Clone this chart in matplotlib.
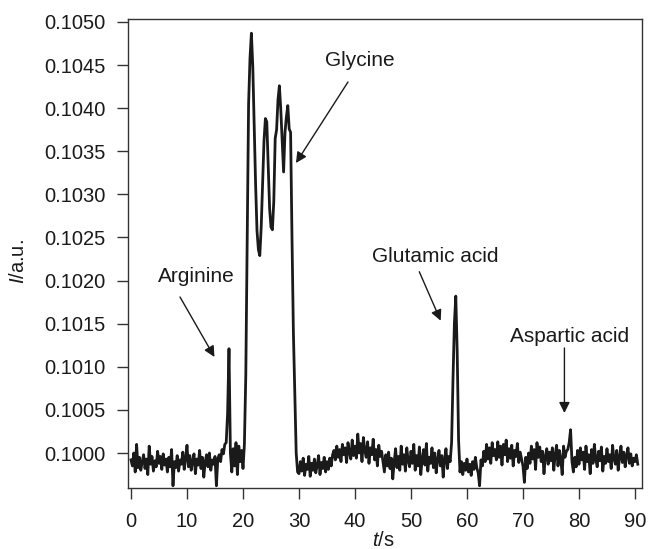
import numpy as np
import matplotlib
matplotlib.use("Agg")
import matplotlib.pyplot as plt

plt.rcParams["font.family"] = ["Liberation Sans", "DejaVu Sans"]
plt.rcParams["mathtext.fontset"] = "custom"
plt.rcParams["mathtext.rm"] = "Liberation Sans"
plt.rcParams["mathtext.it"] = "Liberation Sans:italic"

# Detector trace, sampled every 0.25 s from 0 to 90.5 s
t_start, t_end = 0.0, 90.5
intensity = [
    # 0 - 4.75 s
    0.09992, 0.09985, 0.10000, 0.09978, 0.10010, 0.09983, 0.09995, 0.09980, 0.09990, 0.09998,
    0.09982, 0.09993, 0.09975, 0.10008, 0.09987, 0.09996, 0.09979, 0.09991, 0.09984, 0.10002,
    # 5 - 9.75 s
    0.09988, 0.09996, 0.09981, 0.09999, 0.09986, 0.09993, 0.09978, 0.09995, 0.09984, 0.10004,
    0.09962, 0.09990, 0.09983, 0.09997, 0.09979, 0.09992, 0.09987, 0.10001, 0.09981, 0.09994,
    # 10 - 14.75 s
    0.10009, 0.09984, 0.09997, 0.09980, 0.09991, 0.09999, 0.09976, 0.09993, 0.09986, 0.10003,
    0.09982, 0.09995, 0.09972, 0.09990, 0.09998, 0.09984, 0.10000, 0.09980, 0.09992, 0.09987,
    # 15 - 19.75 s (arginine)
    0.09996, 0.09962, 0.09993, 0.09998, 0.09990, 0.10004, 0.09999, 0.10010, 0.10012, 0.10046,
    0.10121, 0.10000, 0.09978, 0.10005, 0.09985, 0.10012, 0.09975, 0.10008, 0.09990, 0.10003,
    # 20 - 24.75 s (glycine)
    0.09982, 0.10010, 0.10090, 0.10250, 0.10405, 0.10458, 0.10487, 0.10448, 0.10380, 0.10312,
    0.10258, 0.10236, 0.10229, 0.10262, 0.10312, 0.10362, 0.10388, 0.10384, 0.10335, 0.10284,
    # 25 - 29.75 s
    0.10262, 0.10259, 0.10292, 0.10365, 0.10375, 0.10410, 0.10426, 0.10398, 0.10362, 0.10326,
    0.10372, 0.10390, 0.10403, 0.10376, 0.10372, 0.10250, 0.10140, 0.10070, 0.10000, 0.09978,
    # 30 - 34.75 s
    0.09976, 0.09990, 0.09979, 0.09994, 0.09974, 0.09987, 0.09981, 0.09996, 0.09973, 0.09988,
    0.09980, 0.09993, 0.09977, 0.09986, 0.09997, 0.09975, 0.09989, 0.09982, 0.09995, 0.09978,
    # 35 - 39.75 s
    0.09990, 0.09981, 0.09994, 0.09985, 0.09998, 0.10003, 0.09992, 0.10008, 0.09995, 0.10004,
    0.09990, 0.10010, 0.09998, 0.10006, 0.09989, 0.10012, 0.10001, 0.09993, 0.10015, 0.09997,
    # 40 - 44.75 s
    0.10008, 0.09994, 0.10022, 0.10000, 0.10011, 0.09990, 0.10018, 0.10003, 0.09995, 0.10013,
    0.09988, 0.10006, 0.09998, 0.10016, 0.09992, 0.10004, 0.09985, 0.10009, 0.09996, 0.10002,
    # 45 - 49.75 s
    0.09990, 0.09978, 0.09998, 0.09985, 0.10001, 0.09982, 0.09994, 0.09970, 0.09990, 0.10005,
    0.09983, 0.09996, 0.09980, 0.10008, 0.09987, 0.09998, 0.09979, 0.10006, 0.09991, 0.09984,
    # 50 - 54.75 s
    0.10002, 0.09988, 0.10010, 0.09980, 0.09997, 0.09985, 0.10007, 0.09975, 0.09993, 0.10004,
    0.09986, 0.10011, 0.09979, 0.09995, 0.09988, 0.10006, 0.09983, 0.10000, 0.09977, 0.09992,
    # 55 - 59.75 s (glutamic acid)
    0.10003, 0.09985, 0.09997, 0.09972, 0.09993, 0.10005, 0.09982, 0.09996, 0.09990, 0.10012,
    0.10085, 0.10150, 0.10182, 0.10118, 0.10015, 0.09978, 0.09990, 0.09975, 0.09988, 0.09980,
    # 60 - 64.75 s
    0.09993, 0.09978, 0.09987, 0.09974, 0.09990, 0.09981, 0.09995, 0.09983, 0.09977, 0.09962,
    0.09992, 0.09985, 0.10002, 0.09990, 0.10010, 0.09993, 0.10006, 0.09988, 0.10012, 0.09997,
    # 65 - 69.75 s
    0.10004, 0.09992, 0.10013, 0.09995, 0.10008, 0.09986, 0.10010, 0.09998, 0.10015, 0.09990,
    0.10005, 0.09994, 0.10009, 0.09985, 0.10003, 0.09996, 0.10011, 0.09989, 0.10001, 0.09993,
    # 70 - 74.75 s
    0.09985, 0.09966, 0.09995, 0.09982, 0.10000, 0.09988, 0.10008, 0.09993, 0.10004, 0.09981,
    0.10012, 0.09995, 0.10007, 0.09990, 0.10002, 0.09976, 0.09996, 0.10005, 0.09987, 0.10001,
    # 75 - 79.75 s (aspartic acid)
    0.09991, 0.10006, 0.09980, 0.09998, 0.10009, 0.09985, 0.10003, 0.09993, 0.09975, 0.10008,
    0.09995, 0.10002, 0.10004, 0.10012, 0.10027, 0.09990, 0.09978, 0.09995, 0.09984, 0.10003,
    # 80 - 84.75 s
    0.09987, 0.10006, 0.09992, 0.10001, 0.09981, 0.10008, 0.09990, 0.09998, 0.09976, 0.10004,
    0.09988, 0.10010, 0.09993, 0.09984, 0.10002, 0.09991, 0.10007, 0.09979, 0.09996, 0.09988,
    # 85 - 89.75 s
    0.10005, 0.09990, 0.09998, 0.09982, 0.10009, 0.09993, 0.09987, 0.10003, 0.09980, 0.09995,
    0.10008, 0.09989, 0.10001, 0.09984, 0.09997, 0.10006, 0.09988, 0.09999, 0.09985, 0.09994,
    # 90 - 90.5 s
    0.09990, 0.09998, 0.09987,
]
time = np.linspace(t_start, t_end, len(intensity))

x_ticks = [0, 10, 20, 30, 40, 50, 60, 70, 80, 90]
y_ticks = [0.1000, 0.1005, 0.1010, 0.1015, 0.1020, 0.1025, 0.1030, 0.1035, 0.1040, 0.1045, 0.1050]
y_ticklabels = ["0.1000", "0.1005", "0.1010", "0.1015", "0.1020", "0.1025",
                "0.1030", "0.1035", "0.1040", "0.1045", "0.1050"]

# peak labels: (text, text position, arrow tail, arrow tip)
peak_labels = [
    ("Arginine",      (11.6, 0.102042), (8.75, 0.101810), (14.9, 0.101114)),
    ("Glycine",       (40.9, 0.104559), (38.75, 0.104304), (29.46, 0.103364)),
    ("Glutamic acid", (54.3, 0.102274), (51.48, 0.102103), (55.3, 0.101535)),
    ("Aspartic acid", (78.4, 0.101346), (77.4, 0.101218), (77.4, 0.100464)),
]

fig = plt.figure(figsize=(6.48, 5.49), dpi=100)
ax = fig.add_axes([0.1975, 0.1111, 0.7932, 0.8534])

ax.plot(time, intensity, color="#1a1a1a", lw=2.0, solid_joinstyle="round")

ax.set_xlim(-0.54, 91.25)
ax.set_ylim(0.099594, 0.105029)
ax.set_xticks(x_ticks)
ax.set_xticklabels([str(v) for v in x_ticks])
ax.set_yticks(y_ticks)
ax.set_yticklabels(y_ticklabels)

for s in ax.spines.values():
    s.set_color("#333333")
    s.set_linewidth(1.0)
ax.tick_params(axis="both", direction="out", length=8, width=1.0,
               color="#333333", labelsize=14.5, labelcolor="#1a1a1a")
ax.tick_params(axis="y", pad=8)
ax.tick_params(axis="x", pad=9)

# axis titles placed in figure pixels
W, H = 648, 549
fig.text(383 / W, 1 - 541 / H, "$\\it{t}$/s", fontsize=14.5, color="#1a1a1a",
         ha="center", va="center")
fig.text(18 / W, 1 - 262 / H, "$\\it{I}$/a.u.", fontsize=14.5, color="#1a1a1a",
         ha="center", va="center", rotation=90)

for text, tpos, tail, tip in peak_labels:
    ax.text(tpos[0], tpos[1], text, fontsize=15, color="#1a1a1a",
            ha="center", va="center")
    ax.annotate("", xy=tip, xytext=tail,
                arrowprops=dict(arrowstyle="-|>", color="#1a1a1a", lw=1.0,
                                mutation_scale=16, shrinkA=0, shrinkB=0))

fig.savefig("out.png", dpi=100)
